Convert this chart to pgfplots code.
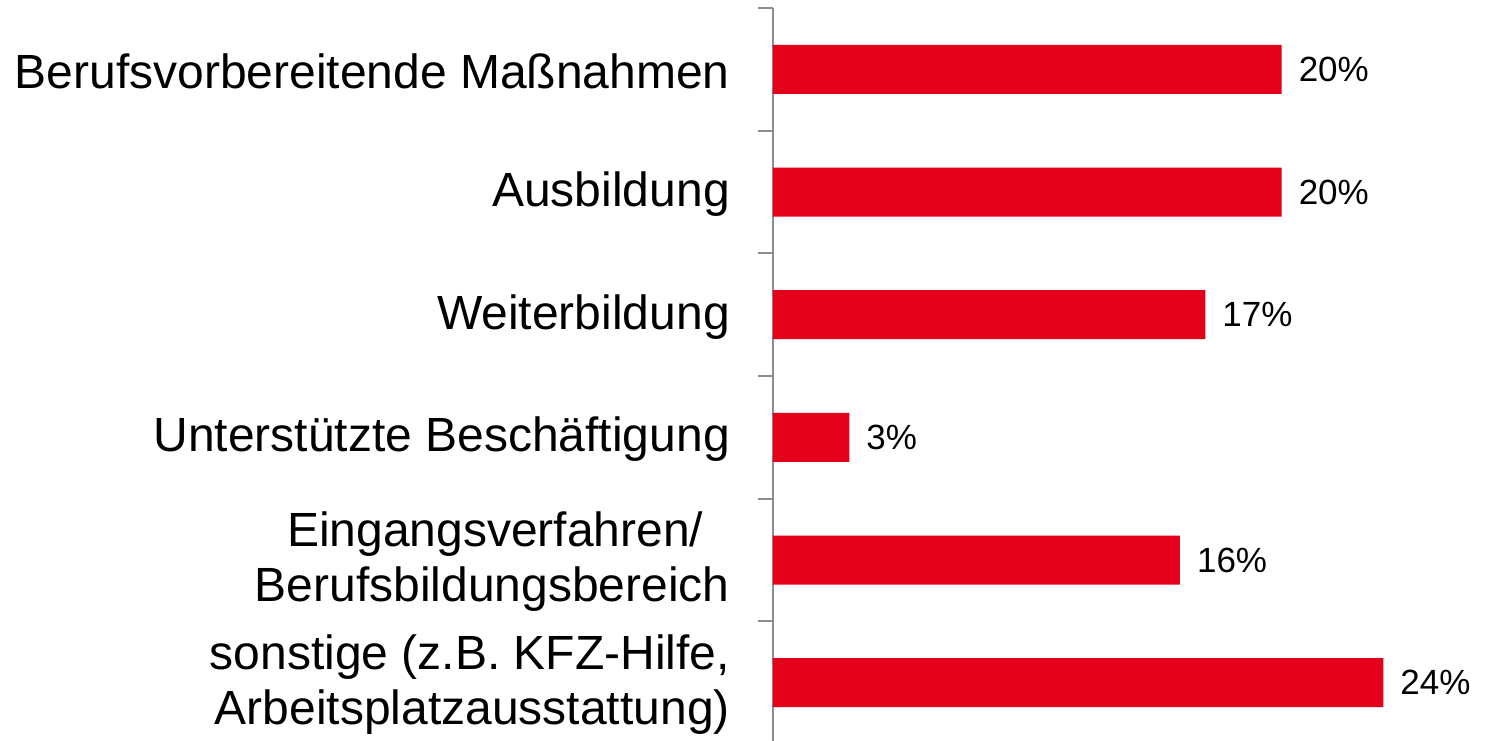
\documentclass[border=0pt]{standalone}
\usepackage{pgfplots}
\pgfplotsset{compat=1.18}
\usepackage{fontspec}
\setmainfont{Liberation Sans}
\definecolor{barred}{RGB}{226,0,26}
\definecolor{axgray}{RGB}{140,140,140}
\begin{document}
\begin{tikzpicture}
\begin{axis}[
  scale only axis, width=712pt, height=736pt,
  at={(0,0)}, anchor=south west,
  xbar, bar width=49pt,
  xmin=0, xmax=28,
  ymin=-0.5, ymax=5.5, y dir=reverse,
  axis lines=left,
  x axis line style={draw=none},
  y axis line style={-, draw=axgray, line width=2.3pt},
  xtick=\empty,
  ytick={0,1,2,3,4,5},
  yticklabels={Berufsvorbereitende Maßnahmen, Ausbildung, Weiterbildung, Unterstützte Beschäftigung, {Eingangsverfahren/\rule{0.55em}{0pt}\\Berufsbildungsbereich}, {sonstige (z.B. KFZ-Hilfe,\\Arbeitsplatzausstattung)}},
  y tick label style={font=\fontsize{48}{55}\selectfont, align=right, inner sep=0pt, xshift=-43pt, yshift=-2pt},
  major tick length=0pt,
  extra y ticks={-0.5,0.5,1.5,2.5,3.5,4.5,5.5},
  extra y tick labels={},
  extra y tick style={major tick length=15pt, tick align=outside, tick style={draw=axgray, line width=2.3pt}},
  point meta=x,
  nodes near coords={\pgfmathprintnumber{\pgfplotspointmeta}\%},
  nodes near coords style={anchor=west, inner sep=0pt, xshift=17pt, font=\fontsize{35}{40}\selectfont, black},
  /pgf/number format/assume math mode=true,
  clip=false,
]
\addplot[fill=barred, draw=none] coordinates {(20,0) (20,1) (17,2) (3,3) (16,4) (24,5)};
\end{axis}
\pgfresetboundingbox
\path[use as bounding box] (-773pt,3pt) rectangle (712pt,744pt);
\end{tikzpicture}
\end{document}
